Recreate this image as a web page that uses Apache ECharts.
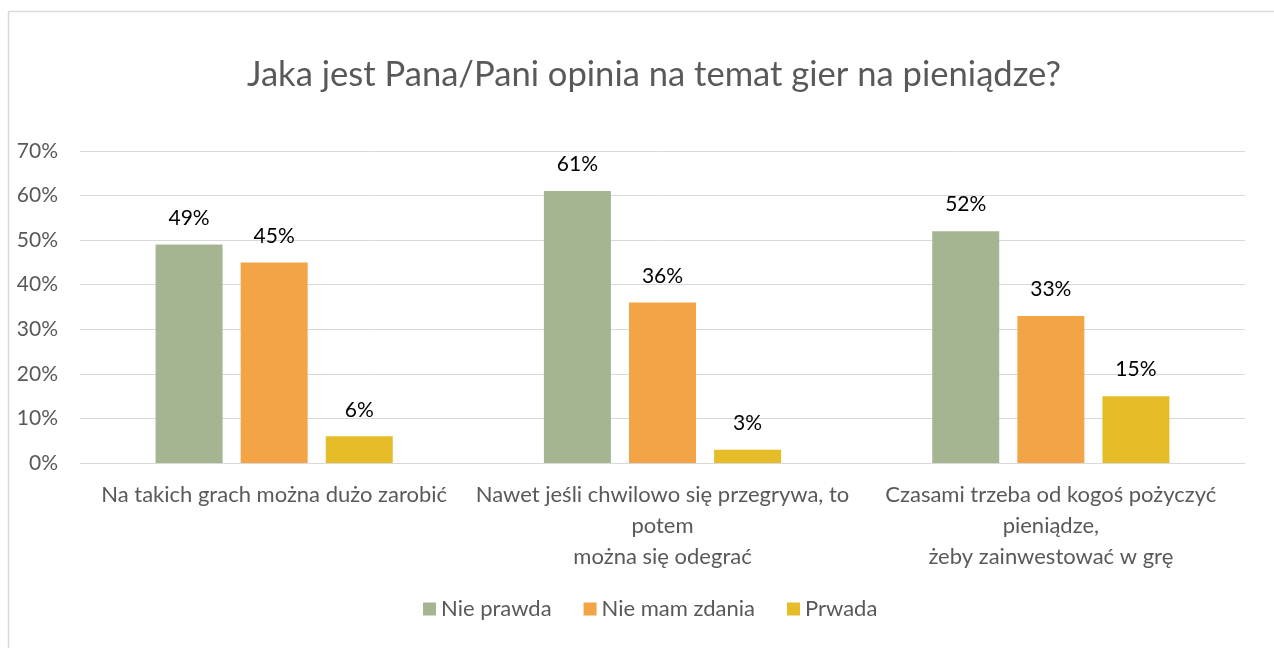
<!DOCTYPE html>
<html>
<head>
<meta charset="utf-8">
<script src="https://cdn.jsdelivr.net/npm/echarts@6/dist/echarts.min.js"></script>
<style>
  html, body { margin: 0; padding: 0; background: #fff; }
  #chart { width: 1274px; height: 648px; }
</style>
</head>
<body>
<div id="chart"></div>
<script>
var categories = [
    'Na takich grach można dużo zarobić',
    'Nawet jeśli chwilowo się przegrywa, to\npotem\nmożna się odegrać',
    'Czasami trzeba od kogoś pożyczyć\npieniądze,\nżeby zainwestować w grę'
];
var seriesNames = ['Nie prawda', 'Nie mam zdania', 'Prwada'];
var niePrawda = [49, 61, 52];
var nieMamZdania = [45, 36, 33];
var prawda = [6, 3, 15];
var colors = ['#A5B592', '#F3A447', '#E7BC29'];

var font = 'Lato, "Open Sans", sans-serif';

function barSeries(name, data, color) {
    return {
        name: name,
        type: 'bar',
        data: data,
        barWidth: 67,
        barGap: '27%',
        itemStyle: {color: color},
        label: {
            show: true,
            position: 'top',
            distance: 16,
            formatter: '{c}%',
            color: '#000',
            fontFamily: font,
            fontSize: 21
        }
    };
}

var myChart = echarts.init(document.getElementById('chart'));
myChart.setOption({
    animation: false,
    color: colors,
    title: {
        text: 'Jaka jest Pana/Pani opinia na temat gier na pieniądze?',
        left: 242,
        top: 52,
        textStyle: {color: '#595959', fontFamily: font, fontSize: 34.6, fontWeight: 'normal'}
    },
    graphic: [{
        type: 'rect',
        shape: {x: 8.5, y: 11.5, width: 1300, height: 700},
        style: {fill: 'none', stroke: '#D9D9D9', lineWidth: 1.5},
        silent: true
    }],
    legend: {
        top: 593,
        left: 418,
        itemWidth: 13,
        itemHeight: 13,
        itemGap: 32,
        icon: 'rect',
        textStyle: {color: '#595959', fontFamily: font, fontSize: 22},
        data: seriesNames
    },
    grid: {left: 80, right: 29, top: 151, bottom: 185, containLabel: false},
    xAxis: {
        type: 'category',
        data: categories,
        axisLine: {lineStyle: {color: '#D9D9D9', width: 1}},
        axisTick: {show: false},
        axisLabel: {
            color: '#595959', fontFamily: font, fontSize: 22,
            lineHeight: 31, margin: 16, interval: 0
        }
    },
    yAxis: {
        type: 'value',
        min: 0,
        max: 70,
        interval: 10,
        axisLine: {show: false},
        axisTick: {show: false},
        splitLine: {lineStyle: {color: '#D9D9D9', width: 1}},
        axisLabel: {
            formatter: '{value}%',
            color: '#595959', fontFamily: font, fontSize: 21, margin: 22
        }
    },
    series: [
        barSeries(seriesNames[0], niePrawda, colors[0]),
        barSeries(seriesNames[1], nieMamZdania, colors[1]),
        barSeries(seriesNames[2], prawda, colors[2])
    ]
});
window.addEventListener('resize', function () {
    myChart.resize();
});
</script>
</body>
</html>
